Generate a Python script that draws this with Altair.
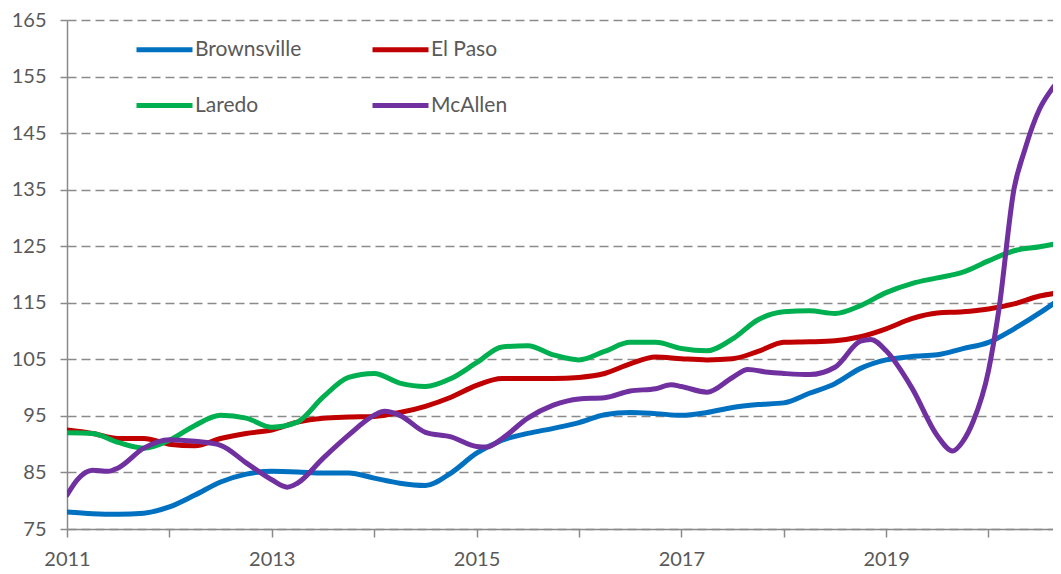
import altair as alt
import pandas as pd

# quarterly sample times (decimal years) for Brownsville, El Paso, Laredo
t_q = [2011.00, 2011.25, 2011.50, 2011.75, 2012.00, 2012.25, 2012.50, 2012.75,
       2013.00, 2013.25, 2013.50, 2013.75, 2014.00, 2014.25, 2014.50, 2014.75,
       2015.00, 2015.25, 2015.50, 2015.75, 2016.00, 2016.25, 2016.50, 2016.75,
       2017.00, 2017.25, 2017.50, 2017.75, 2018.00, 2018.25, 2018.50, 2018.75,
       2019.00, 2019.25, 2019.50, 2019.75, 2020.00, 2020.25, 2020.50, 2020.70]

brownsville = [78.0, 77.7, 77.6, 77.8, 78.9, 81.0, 83.3, 84.7,
               85.2, 85.1, 84.9, 84.9, 84.0, 83.1, 82.7, 84.9,
               88.4, 90.7, 91.9, 92.8, 93.8, 95.2, 95.6, 95.4,
               95.1, 95.6, 96.5, 97.0, 97.3, 99.0, 100.7, 103.4,
               104.9, 105.5, 105.8, 106.9, 108.0, 110.4, 113.2, 115.7]

el_paso = [92.5, 91.9, 91.0, 91.0, 90.0, 89.7, 91.0, 91.9,
           92.5, 93.9, 94.6, 94.8, 94.9, 95.6, 96.7, 98.3,
           100.4, 101.6, 101.6, 101.6, 101.8, 102.5, 104.2, 105.4,
           105.1, 104.9, 105.1, 106.4, 108.0, 108.1, 108.3, 109.0,
           110.4, 112.2, 113.2, 113.4, 113.9, 114.8, 116.2, 116.8]

laredo = [92.0, 91.9, 90.3, 89.3, 90.7, 93.3, 95.1, 94.6,
          93.0, 93.9, 98.3, 101.8, 102.5, 100.8, 100.2, 101.6,
          104.4, 107.2, 107.4, 105.8, 104.9, 106.4, 108.0, 108.0,
          106.9, 106.5, 108.6, 112.0, 113.4, 113.6, 113.1, 114.5,
          116.8, 118.4, 119.4, 120.4, 122.4, 124.2, 124.9, 125.6]

# McAllen sampled more densely around its swings
t_mc = [2011.00, 2011.10, 2011.25, 2011.40, 2011.50, 2011.75, 2012.00, 2012.25,
        2012.50, 2012.75, 2013.00, 2013.15, 2013.25, 2013.50, 2013.75, 2014.00,
        2014.10, 2014.25, 2014.50, 2014.75, 2015.00, 2015.10, 2015.25, 2015.50,
        2015.75, 2016.00, 2016.25, 2016.50, 2016.75, 2016.90, 2017.00, 2017.25,
        2017.50, 2017.65, 2017.85, 2018.00, 2018.25, 2018.50, 2018.75, 2018.85,
        2019.00, 2019.25, 2019.50, 2019.65, 2019.75, 2019.85, 2020.00, 2020.10,
        2020.25, 2020.35, 2020.50, 2020.60, 2020.70]
mcallen = [81.0, 83.7, 85.4, 85.2, 85.8, 89.3, 90.8, 90.5,
           89.8, 86.7, 83.7, 82.4, 83.1, 87.5, 91.6, 95.1,
           95.8, 95.1, 92.1, 91.3, 89.6, 89.5, 91.0, 94.6,
           96.9, 98.0, 98.2, 99.4, 99.8, 100.5, 100.2, 99.2,
           101.8, 103.2, 102.7, 102.5, 102.3, 103.6, 108.2, 108.5,
           106.5, 100.0, 91.5, 88.8, 90.5, 94.0, 103.0, 113.6,
           135.2, 141.8, 149.3, 152.3, 154.6]

series_names = ["Brownsville", "El Paso", "Laredo", "McAllen"]
series_colors = ["#0070C0", "#C00000", "#00B050", "#7030A0"]
y_ticks = [75, 85, 95, 105, 115, 125, 135, 145, 155, 165]
x_ticks = [2011, 2012, 2013, 2014, 2015, 2016, 2017, 2018, 2019, 2020]

rows = []
for name, ts, vs in [("Brownsville", t_q, brownsville), ("El Paso", t_q, el_paso),
                     ("Laredo", t_q, laredo), ("McAllen", t_mc, mcallen)]:
    for t, v in zip(ts, vs):
        rows.append({"t": t, "value": v, "series": name})
df = pd.DataFrame(rows)

FONT = "Lato"
GRAY = "#8a8a8a"
TXT = "#595959"

chart = alt.Chart(df).mark_line(
    strokeWidth=5, interpolate="monotone", clip=True, strokeCap="round"
).encode(
    x=alt.X("t:Q",
            scale=alt.Scale(domain=[2011, 2020.63], nice=False, zero=False),
            axis=alt.Axis(values=x_ticks, title=None, grid=False,
                          labelExpr="datum.value % 2 == 1 ? format(datum.value, 'd') : ''",
                          tickSize=8, tickColor=GRAY, tickWidth=1.5,
                          domainColor=GRAY, domainWidth=1.5,
                          labelFont=FONT, labelFontSize=20, labelColor=TXT,
                          labelPadding=12, labelFlush=False, labelOverlap=False)),
    y=alt.Y("value:Q",
            scale=alt.Scale(domain=[75, 165], nice=False, zero=False),
            axis=alt.Axis(values=y_ticks, title=None, grid=True,
                          gridDash=[9, 5], gridColor=GRAY, gridWidth=1.5,
                          tickSize=7, tickColor=GRAY, tickWidth=1.5,
                          domainColor=GRAY, domainWidth=1.5,
                          labelFont=FONT, labelFontSize=20, labelColor=TXT,
                          labelPadding=14, labelOverlap=False)),
    color=alt.Color("series:N",
                    scale=alt.Scale(domain=series_names, range=series_colors),
                    legend=alt.Legend(orient="none", legendX=67, legendY=-1,
                                      columns=2, title=None, direction="horizontal",
                                      symbolType="stroke", symbolSize=3136,
                                      symbolStrokeWidth=5, labelOffset=0,
                                      labelFont=FONT, labelFontSize=21,
                                      labelColor=TXT, columnPadding=60,
                                      rowPadding=15, padding=0)),
).properties(
    width=986, height=509,
    autosize=alt.AutoSizeParams(type="none"),
    padding={"left": 59, "top": 12, "right": 0, "bottom": 40},
).configure_view(stroke=None)

chart.save("out.html", embed_options={"renderer": "svg", "actions": False})
